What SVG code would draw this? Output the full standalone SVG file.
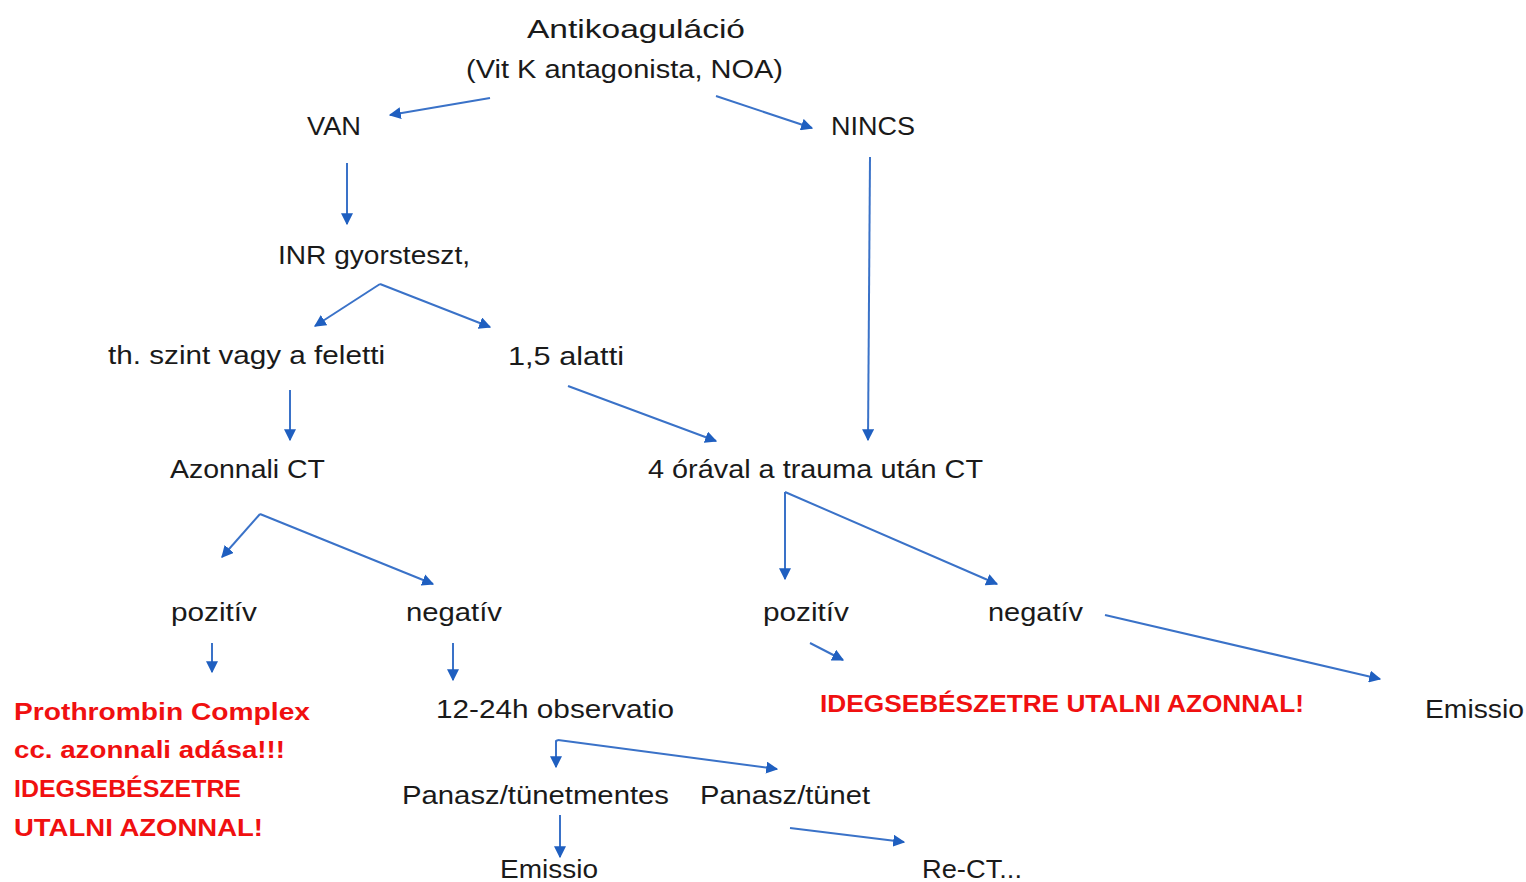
<svg xmlns="http://www.w3.org/2000/svg" width="1526" height="882" viewBox="0 0 1526 882">
<defs>
<marker id="ah" viewBox="0 0 10 10" refX="9" refY="5" markerWidth="6" markerHeight="6" orient="auto" markerUnits="strokeWidth">
<path d="M0,0 L10,5 L0,10 z" fill="#1f5fc0"/>
</marker>
<style>
.t{font-family:"Liberation Sans",Arial,sans-serif;font-size:25px;fill:#1a1a1a}
.r{font-family:"Liberation Sans",Arial,sans-serif;font-size:24px;font-weight:bold;fill:#f01010}
.c{stroke:#3a72c8;stroke-width:2;fill:none;marker-end:url(#ah)}
</style>
</defs>
<rect width="1526" height="882" fill="#fff"/>
<g id="n-anti"><text class="t" x="527" y="38" font-size="28" textLength="218" lengthAdjust="spacingAndGlyphs">Antikoaguláció</text>
<text class="t" x="466" y="78" textLength="317" lengthAdjust="spacingAndGlyphs">(Vit K antagonista, NOA)</text></g>
<g id="n-van"><text class="t" x="307" y="135" textLength="54" lengthAdjust="spacingAndGlyphs">VAN</text></g>
<g id="n-nincs"><text class="t" x="831" y="135" textLength="84" lengthAdjust="spacingAndGlyphs">NINCS</text></g>
<g id="n-inr"><text class="t" x="278" y="264" textLength="192" lengthAdjust="spacingAndGlyphs">INR gyorsteszt,</text></g>
<g id="n-th"><text class="t" x="108" y="364" textLength="277" lengthAdjust="spacingAndGlyphs">th. szint vagy a feletti</text></g>
<g id="n-15"><text class="t" x="508" y="365" textLength="116" lengthAdjust="spacingAndGlyphs">1,5 alatti</text></g>
<g id="n-azct"><text class="t" x="170" y="478" textLength="155" lengthAdjust="spacingAndGlyphs">Azonnali CT</text></g>
<g id="n-4ora"><text class="t" x="648" y="478" textLength="335" lengthAdjust="spacingAndGlyphs">4 órával a trauma után CT</text></g>
<g id="n-poz1"><text class="t" x="171" y="621" textLength="86" lengthAdjust="spacingAndGlyphs">pozitív</text></g>
<g id="n-neg1"><text class="t" x="406" y="621" textLength="96" lengthAdjust="spacingAndGlyphs">negatív</text></g>
<g id="n-poz2"><text class="t" x="763" y="621" textLength="86" lengthAdjust="spacingAndGlyphs">pozitív</text></g>
<g id="n-neg2"><text class="t" x="988" y="621" textLength="95" lengthAdjust="spacingAndGlyphs">negatív</text></g>
<g id="n-pcc"><text class="r" x="14" y="720" textLength="296" lengthAdjust="spacingAndGlyphs">Prothrombin Complex</text>
<text class="r" x="14" y="758" textLength="271" lengthAdjust="spacingAndGlyphs">cc. azonnali adása!!!</text>
<text class="r" x="14" y="797" textLength="227" lengthAdjust="spacingAndGlyphs">IDEGSEBÉSZETRE</text>
<text class="r" x="14" y="836" textLength="249" lengthAdjust="spacingAndGlyphs">UTALNI AZONNAL!</text></g>
<g id="n-obs"><text class="t" x="436" y="718" textLength="238" lengthAdjust="spacingAndGlyphs">12-24h observatio</text></g>
<g id="n-ideg2"><text class="r" x="820" y="712" textLength="484" lengthAdjust="spacingAndGlyphs">IDEGSEBÉSZETRE UTALNI AZONNAL!</text></g>
<g id="n-emis1"><text class="t" x="1425" y="718" textLength="99" lengthAdjust="spacingAndGlyphs">Emissio</text></g>
<g id="n-pm"><text class="t" x="402" y="804" textLength="267" lengthAdjust="spacingAndGlyphs">Panasz/tünetmentes</text></g>
<g id="n-pt"><text class="t" x="700" y="804" textLength="170" lengthAdjust="spacingAndGlyphs">Panasz/tünet</text></g>
<g id="n-emis2"><text class="t" x="500" y="878" textLength="98" lengthAdjust="spacingAndGlyphs">Emissio</text></g>
<g id="n-rect"><text class="t" x="922" y="878" textLength="100" lengthAdjust="spacingAndGlyphs">Re-CT...</text></g>
<g id="connectors">
<path class="c" d="M490,98 L390,115"/>
<path class="c" d="M716,96 L812,128"/>
<path class="c" d="M347,163 L347,224"/>
<path class="c" d="M870,157 L868,440"/>
<path class="c" d="M380,284 L315,326"/>
<path class="c" d="M380,284 L490,327"/>
<path class="c" d="M290,390 L290,440"/>
<path class="c" d="M568,386 L716,441"/>
<path class="c" d="M260,514 L222,557"/>
<path class="c" d="M260,514 L433,584"/>
<path class="c" d="M785,492 L785,579"/>
<path class="c" d="M785,492 L997,584"/>
<path class="c" d="M212,643 L212,672"/>
<path class="c" d="M453,643 L453,680"/>
<path class="c" d="M810,643 L843,660"/>
<path class="c" d="M1105,615 L1380,679"/>
<path class="c" d="M558,740 L556,741 L556,767"/>
<path class="c" d="M558,740 L777,769"/>
<path class="c" d="M560,815 L560,857"/>
<path class="c" d="M790,828 L904,842"/>
</g>
</svg>
